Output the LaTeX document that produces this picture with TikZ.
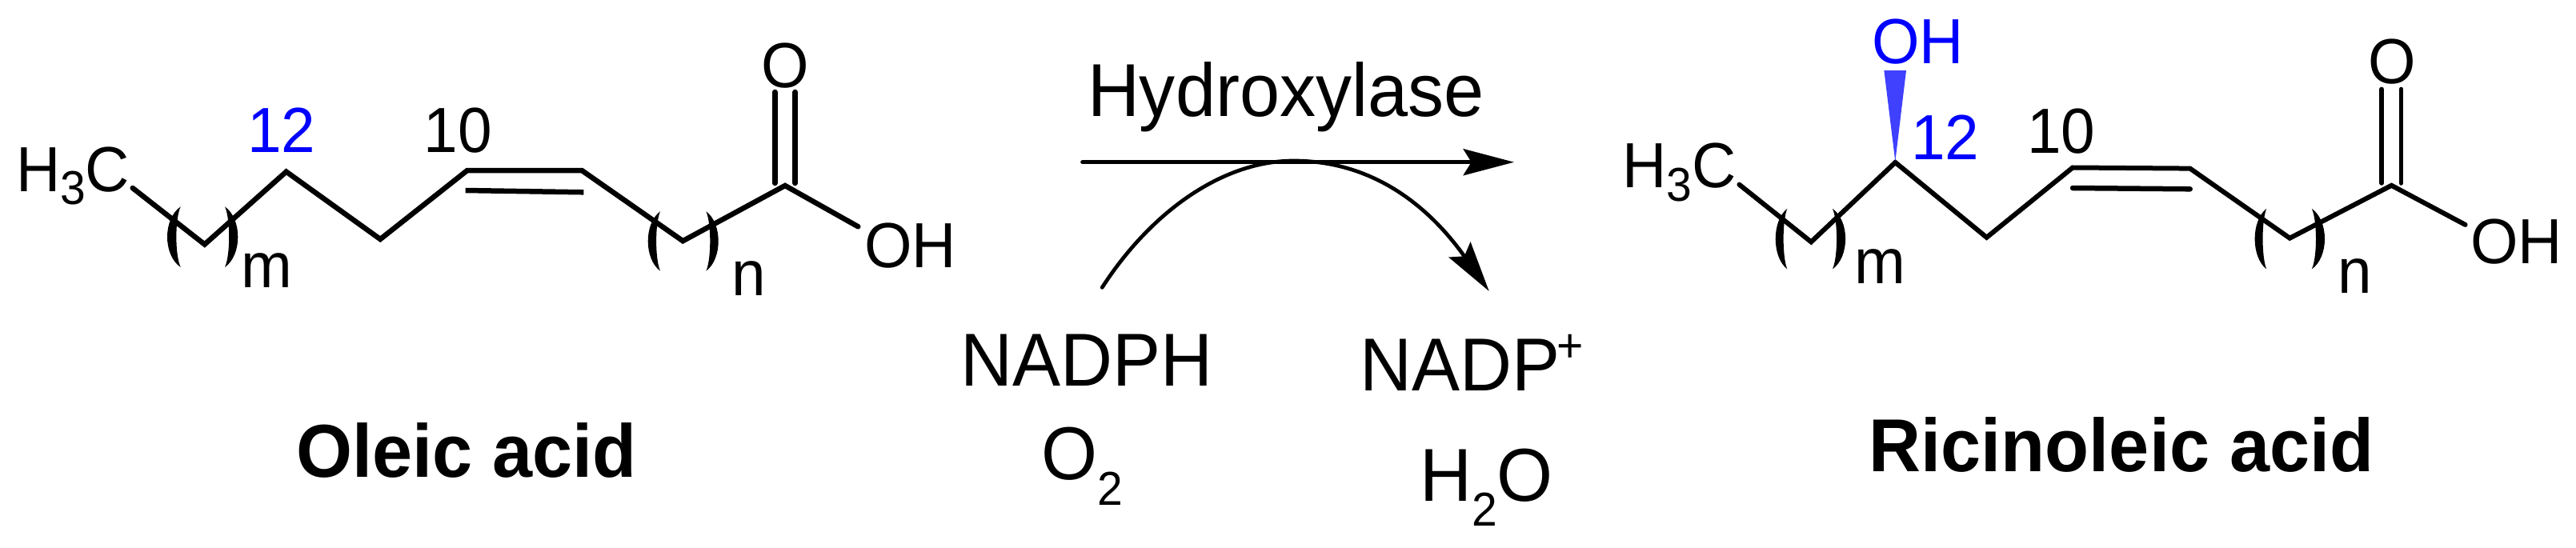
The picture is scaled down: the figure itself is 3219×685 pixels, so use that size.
\documentclass[tikz,border=0pt]{standalone}
\usepackage{fontspec}
\setmainfont[FakeStretch=0.96]{Liberation Sans}
\usetikzlibrary{arrows.meta}
\definecolor{labelblue}{RGB}{0,0,255}
\definecolor{wedgeblue}{RGB}{64,64,255}
\newcommand{\fsz}[1]{\fontsize{#1}{#1}\selectfont}
\newcommand{\lowsub}[2]{\raisebox{#1}{\fsz{59.4}#2}}
\newcommand{\lensbracket}[4]{% xtop xmid ytop ybottom
  \pgfmathsetmacro{\lensA}{#1+(#2-#1)*4/3}
  \pgfmathsetmacro{\lensB}{#1+(#2-#1)*0.32*4/3}
  \pgfmathsetmacro{\lensC}{#3+(#4-#3)*0.2}
  \pgfmathsetmacro{\lensD}{#3+(#4-#3)*0.8}
  \fill (#1,#3) .. controls (\lensA,\lensC) and (\lensA,\lensD) .. (#1,#4)
    .. controls (\lensB,\lensD) and (\lensB,\lensC) .. cycle;}
\tikzset{
  chemlabel/.style={anchor=base west,inner sep=0pt,outer sep=0pt,font=\fsz{79.7}},
  biglabel/.style={anchor=base west,inner sep=0pt,outer sep=0pt,font=\fsz{93.75}},
  namelabel/.style={anchor=base west,inner sep=0pt,outer sep=0pt,font=\fsz{93.75}\bfseries},
  bond/.style={line width=6.5pt,line join=miter,line cap=round},
  innerbond/.style={line width=6.5pt,line cap=round},
  rxn/.style={line width=4.7pt,line cap=round,-{Stealth[length=63.4pt,width=33pt,inset=10pt]}},
}
\begin{document}
\begin{tikzpicture}[x=1pt,y=-1pt]
\useasboundingbox (0,0) rectangle (3219,685);
\fill[white] (0,0) rectangle (3219,685);
% ---------- Oleic acid
\coordinate (a0) at (165.7,235);
\coordinate (a1) at (255.7,305.5);
\coordinate (a2) at (357.7,214.6);
\coordinate (a3) at (475.2,299);
\coordinate (a4) at (583.9,213);
\coordinate (a5) at (727,213);
\coordinate (a6) at (853.3,301.2);
\coordinate (a7) at (981,232);
\coordinate (a8) at (1072.3,283.3);
\coordinate (a4i) at (581.6,238);
\coordinate (a5i) at (729.3,240.3);
\coordinate (ao1) at (968.3,115);
\coordinate (ao1b) at (968.3,229);
\coordinate (ao2) at (993.7,115);
\coordinate (ao2b) at (993.7,229);
\draw[bond] (a0) -- (a1) -- (a2) -- (a3) -- (a4) -- (a5) -- (a6) -- (a7) -- (a8);
\draw[innerbond,line cap=butt] (a4i) -- (a5i);
\draw[bond] (ao1) -- (ao1b);
\draw[bond] (ao2) -- (ao2b);
\lensbracket{225.7}{209}{258.3}{334}
\lensbracket{281}{297.3}{258.3}{334}
\lensbracket{825}{809.7}{264.3}{338.6}
\lensbracket{882.4}{897.7}{264.3}{338.6}
\node[chemlabel] (ach3) at (20,239) {H\lowsub{-16.5pt}{3}C};
\node[chemlabel,text=labelblue] (a12) at (309,190) {12};
\node[chemlabel] (a10) at (529.6,190) {10};
\node[chemlabel] (am) at (301.7,359.3) {m};
\node[chemlabel] (an) at (914.9,369.2) {n};
\node[chemlabel] (ao) at (951.3,109) {O};
\node[chemlabel] (aoh) at (1080.3,334) {OH};
\node[namelabel] (aname) at (370,596) {Oleic acid};
% ---------- Reaction
\node[biglabel] (enz) at (1359,145) {Hydroxylase};
\coordinate (r0) at (1352.5,202.7);
\coordinate (r1) at (1892,202.7);
\draw[rxn] (r0) -- (r1);
\node[biglabel] (nadph) at (1200.5,482.7) {NADPH};
\node[biglabel] (otwo) at (1301.2,599.7) {O\lowsub{-31.6pt}{2}};
\node[biglabel] (nadp) at (1699,488.3) {NADP\hspace{-4pt}\raisebox{36pt}{\fsz{59.4}+}};
\node[biglabel] (wat) at (1774,626.7) {H\lowsub{-31pt}{2}O};
\coordinate (c0) at (1377.2,359.4);
\coordinate (c1) at (1616.6,201);
\coordinate (c2) at (1860.7,363.9);
\draw[rxn] (c0) .. controls (1436.5,267.3) and (1525.6,201) .. (c1)
  .. controls (1713.6,201) and (1783.9,255.4) .. (c2);
% ---------- Ricinoleic acid
\coordinate (b0) at (2173.4,230.7);
\coordinate (b1) at (2263.2,302.4);
\coordinate (b2) at (2368.4,203);
\coordinate (b3) at (2482.5,296.8);
\coordinate (b4) at (2590,209.5);
\coordinate (b5) at (2736.7,210.6);
\coordinate (b6) at (2861.3,297.7);
\coordinate (b7) at (2988.4,231.8);
\coordinate (b8) at (3080.6,280.9);
\coordinate (b4i) at (2590,235);
\coordinate (b5i) at (2736.7,236.3);
\coordinate (bo1) at (2976.2,111.4);
\coordinate (bo1b) at (2976.2,229);
\coordinate (bo2) at (3000.5,111.4);
\coordinate (bo2b) at (3000.5,229);
\draw[bond,line width=6pt] (b0) -- (b1) -- (b2) -- (b3) -- (b4) -- (b5) -- (b6) -- (b7) -- (b8);
\draw[innerbond] (b4i) -- (b5i);
\draw[bond,line width=5.5pt] (bo1) -- (bo1b);
\draw[bond,line width=5.5pt] (bo2) -- (bo2b);
\fill[wedgeblue] (2368.3,201.7) -- (2382,88) -- (2354.3,88) -- cycle;
\lensbracket{2233.3}{2218.7}{260.8}{336.4}
\lensbracket{2289.9}{2306.1}{260.8}{336.4}
\lensbracket{2832.2}{2817.6}{260.8}{336.4}
\lensbracket{2888.8}{2905}{260.8}{336.4}
\node[chemlabel,text=labelblue] (boh12) at (2339,80) {OH};
\node[chemlabel,text=labelblue] (b12) at (2388.3,199) {12};
\node[chemlabel] (b10) at (2533.3,191.7) {10};
\node[chemlabel] (bch3) at (2027.4,234.6) {H\lowsub{-16.5pt}{3}C};
\node[chemlabel] (bm) at (2317.3,354.7) {m};
\node[chemlabel] (bn) at (2921.9,366) {n};
\node[chemlabel] (bo) at (2959.6,104.8) {O};
\node[chemlabel] (boh) at (3087.4,329.8) {OH};
\node[namelabel] (bname) at (2335.9,589.8) {Ricinoleic acid};
\end{tikzpicture}
\end{document}
